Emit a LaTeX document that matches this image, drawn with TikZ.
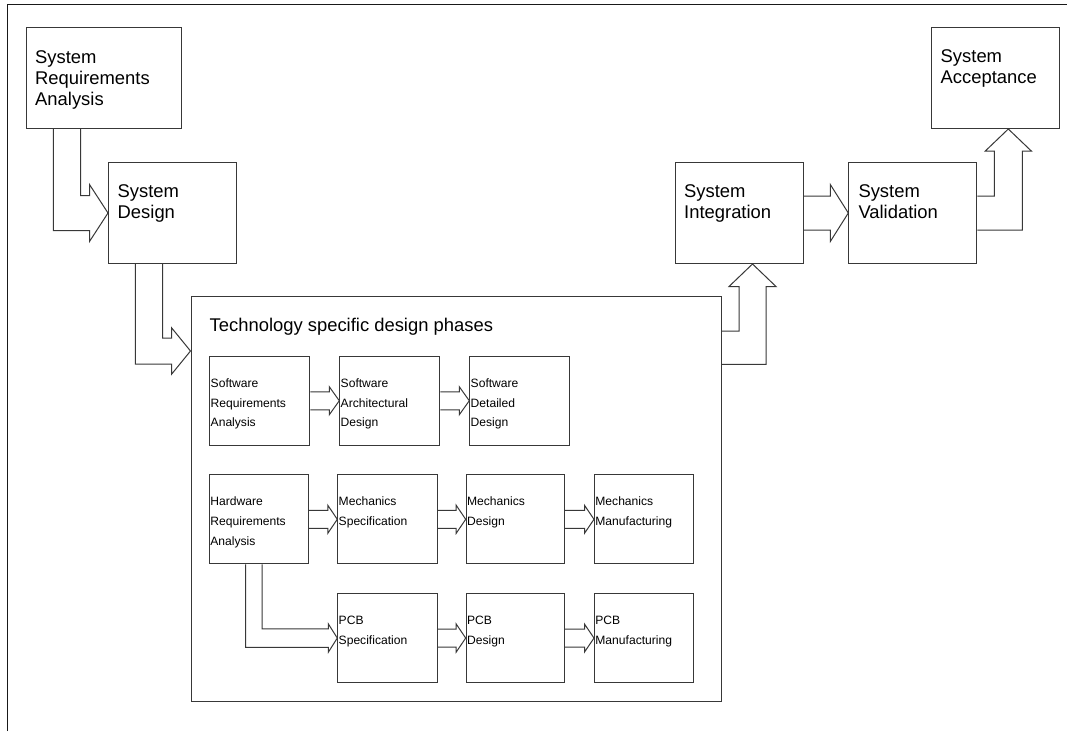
\documentclass[tikz,border=0pt]{standalone}
\usepackage{fontspec}
\setmainfont{Liberation Sans}
\usetikzlibrary{calc}

\newcommand\bigfont{\fontsize{18.4}{21}\selectfont}
\newcommand\smallfont{\fontsize{12.1}{19.6}\selectfont}
% left aligned lines whose baseline is that of the first line
\newcommand\toplines[1]{\begin{tabular}[t]{@{}l@{}}#1\end{tabular}}

% straight hollow arrow from the east side of #1 to the west side of #2
% #3 half shaft width, #4 half head width, #5 head length
\newcommand\fatright[5]{%
  \draw[conn] ($(#1.east)+(0,-#3)$) -- ($(#2.west)+(-#5,-#3)$)
    -- ($(#2.west)+(-#5,-#4)$) -- (#2.west) -- ($(#2.west)+(-#5,#4)$)
    -- ($(#2.west)+(-#5,#3)$) -- ($(#1.east)+(0,#3)$);}

\begin{document}
\begin{tikzpicture}[x=1pt,y=-1pt,
  box/.style={draw=black!78, line width=1pt, anchor=north west, inner sep=0pt},
  bigbox/.style={box, minimum width=128, minimum height=101},
  smallbox/.style={box, minimum width=100, minimum height=88.5},
  conn/.style={draw=black!78, line width=1pt, line join=miter},
  frame/.style={draw=black!90, line width=1.3pt},
  bigtxt/.style={anchor=base west, inner sep=0pt, font=\bigfont},
  smalltxt/.style={anchor=base west, inner sep=0pt, font=\smallfont}]

\useasboundingbox (0,0) rectangle (1067,731);
\fill[white] (0,0) rectangle (1067,731);

% page frame
\draw[frame] (7.3,731) -- (7.3,4.3) -- (1067,4.3);

% system level boxes
\node[bigbox, minimum width=155] (sra) at (26,27) {};
\node[bigbox] (sd) at (108,162) {};
\node[bigbox] (si) at (674.5,162) {};
\node[bigbox] (sv) at (848.3,162) {};
\node[bigbox, minimum width=127.5] (sa) at (931,27) {};

\node[bigtxt] (sra-t) at ($(sra.north west)+(9,36)$) {\toplines{System\\Requirements\\Analysis}};
\node[bigtxt] (sd-t) at ($(sd.north west)+(9.5,35)$) {\toplines{System\\Design}};
\node[bigtxt] (si-t) at ($(si.north west)+(9.5,35)$) {\toplines{System\\Integration}};
\node[bigtxt] (sv-t) at ($(sv.north west)+(10,35)$) {\toplines{System\\Validation}};
\node[bigtxt] (sa-t) at ($(sa.north west)+(9.5,35)$) {\toplines{System\\Acceptance}};

% technology specific container
\node[box, minimum width=530, minimum height=405] (tech) at (190.5,296) {};
\node[bigtxt] (tech-t) at ($(tech.north west)+(19,35.7)$) {Technology specific design phases};

% software row
\node[smallbox] (swra) at (209.3,356) {};
\node[smallbox] (swad) at (339.3,356) {};
\node[smallbox] (swdd) at (469.3,356) {};
% mechanics row
\node[smallbox, minimum width=99, minimum height=89] (hra) at (209,474.3) {};
\node[smallbox, minimum width=99.4, minimum height=89] (ms) at (337.3,474.3) {};
\node[smallbox, minimum width=98.5, minimum height=89] (md) at (465.7,474.3) {};
\node[smallbox, minimum width=98.7, minimum height=89] (mm) at (594,474.3) {};
% pcb row
\node[smallbox, minimum width=99.4] (pcbs) at (337.3,593.3) {};
\node[smallbox, minimum width=98.5] (pcbd) at (465.7,593.3) {};
\node[smallbox, minimum width=98.7] (pcbm) at (594,593.3) {};

\node[smalltxt] (swra-t) at ($(swra.north west)+(1.2,31.5)$) {\toplines{Software\\Requirements\\Analysis}};
\node[smalltxt] (swad-t) at ($(swad.north west)+(1.2,31.5)$) {\toplines{Software\\Architectural\\Design}};
\node[smalltxt] (swdd-t) at ($(swdd.north west)+(1.2,31.5)$) {\toplines{Software\\Detailed\\Design}};
\node[smalltxt] (hra-t) at ($(hra.north west)+(1.2,31.5)$) {\toplines{Hardware\\Requirements\\Analysis}};
\node[smalltxt] (ms-t) at ($(ms.north west)+(1.2,31.5)$) {\toplines{Mechanics\\Specification}};
\node[smalltxt] (md-t) at ($(md.north west)+(1.2,31.5)$) {\toplines{Mechanics\\Design}};
\node[smalltxt] (mm-t) at ($(mm.north west)+(1.2,31.5)$) {\toplines{Mechanics\\Manufacturing}};
\node[smalltxt] (pcbs-t) at ($(pcbs.north west)+(1.2,31.5)$) {\toplines{PCB\\Specification}};
\node[smalltxt] (pcbd-t) at ($(pcbd.north west)+(1.2,31.5)$) {\toplines{PCB\\Design}};
\node[smalltxt] (pcbm-t) at ($(pcbm.north west)+(1.2,31.5)$) {\toplines{PCB\\Manufacturing}};

% entry / exit points on the container and upper boxes
\coordinate (techin) at ($(tech.north west)+(0,55)$);
\coordinate (siin) at ($(si.south west)+(78,0)$);
\coordinate (sain) at ($(sa.south west)+(77.3,0)$);

% system requirements -> system design
\draw[conn] ($(sra.south west)+(54.7,0)$) |- ($(sd.west)+(-18.5,-17.5)$) -- ++(0,-11)
  -- (sd.west) -- ($(sd.west)+(-18.5,28.5)$) -- ++(0,-11) -| ($(sra.south west)+(27.3,0)$);

% system design -> technology phases
\draw[conn] ($(sd.south west)+(54.6,0)$) |- ($(techin)+(-19,-13)$) -- ++(0,-10.3)
  -- (techin) -- ($(techin)+(-19,23.3)$) -- ++(0,-10.3) -| ($(sd.south west)+(27.3,0)$);

% technology phases -> system integration
\draw[conn] ($(tech.north east)+(0,35)$) -| ($(siin)+(-13.5,22.5)$) -- ++(-10,0)
  -- (siin) -- ($(siin)+(23.5,22.5)$) -- ++(-10,0) |- ($(tech.north east)+(0,68.3)$);

% system integration -> system validation
\fatright{si}{sv}{17}{28.5}{18}

% system validation -> system acceptance
\draw[conn] ($(sv.east)+(0,-17)$) -| ($(sain)+(-14,22)$) -- ++(-9,0)
  -- (sain) -- ($(sain)+(23,22)$) -- ++(-9,0) |- ($(sv.east)+(0,17)$);

% software chain
\fatright{swra}{swad}{9}{14}{10}
\fatright{swad}{swdd}{9}{14}{10}
% mechanics chain
\fatright{hra}{ms}{9}{14}{9.5}
\fatright{ms}{md}{9}{14}{9.5}
\fatright{md}{mm}{9}{14}{9.5}
% pcb chain
\fatright{pcbs}{pcbd}{9}{14}{9.5}
\fatright{pcbd}{pcbm}{9}{14}{9.5}

% hardware requirements -> pcb specification
\draw[conn] ($(hra.south west)+(53,0)$) |- ($(pcbs.west)+(-9,-9.2)$) -- ++(0,-5)
  -- (pcbs.west) -- ($(pcbs.west)+(-9,14.2)$) -- ++(0,-5) -| ($(hra.south west)+(36.5,0)$);

\end{tikzpicture}
\end{document}
